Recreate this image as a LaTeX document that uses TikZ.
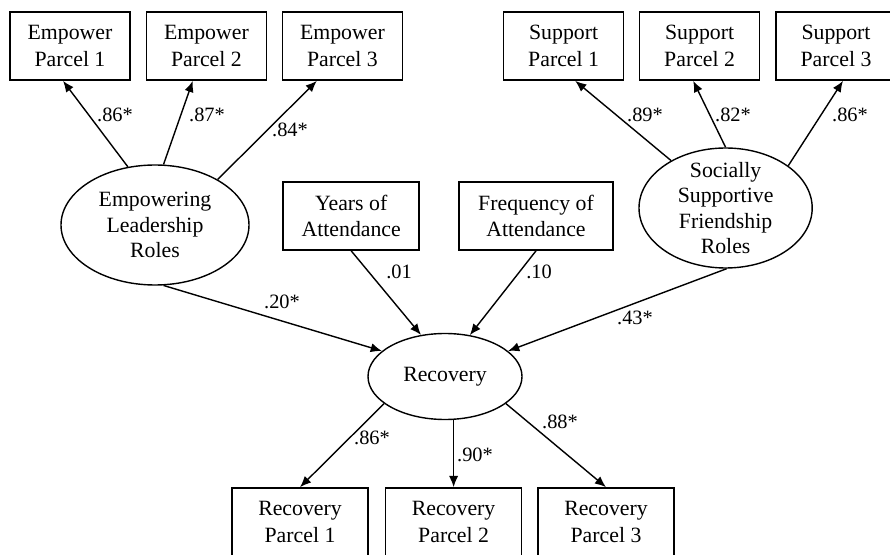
\documentclass[tikz,border=0pt]{standalone}
\usepackage{fontspec}
\setmainfont{Liberation Serif}
\usetikzlibrary{shapes,arrows}
\usetikzlibrary{arrows.meta}
\usetikzlibrary{calc,positioning}

\tikzset{
    obs/.style={draw, line width=1.2pt, rectangle, minimum width=3cm, minimum height=1.7cm, inner sep=0pt, align=center, font=\fontsize{15.5}{19}\selectfont},
    latent/.style={draw, line width=1pt, ellipse, inner sep=0pt, font=\fontsize{15.5}{18}\selectfont},
    lbl/.style={align=center, inner sep=0pt, font=\fontsize{15.5}{18}\selectfont},
    arr/.style={line width=1pt, -{Latex[length=2.8mm,width=2.3mm]}},
    coef/.style={inner sep=0pt, font=\fontsize{14.5}{17}\selectfont},
}

\begin{document}
\begin{tikzpicture}
    \useasboundingbox (0,0) rectangle (22.25,13.85);
    % indicators
    \node[obs] (ep1) at (1.75,12.7) {Empower\\Parcel 1};
    \node[obs] (ep2) at (5.16,12.7) {Empower\\Parcel 2};
    \node[obs] (ep3) at (8.56,12.7) {Empower\\Parcel 3};
    \node[obs] (sp1) at (14.09,12.7) {Support\\Parcel 1};
    \node[obs] (sp2) at (17.49,12.7) {Support\\Parcel 2};
    \node[obs] (sp3) at (20.9,12.7) {Support\\Parcel 3};
    \node[obs, minimum width=3.4cm] (yoa) at (8.78,8.45) {Years of\\Attendance};
    \node[obs, minimum width=3.85cm] (foa) at (13.4,8.45) {Frequency of\\Attendance};
    \node[obs, minimum width=3.4cm] (rp1) at (7.5,0.8) {Recovery\\Parcel 1};
    \node[obs, minimum width=3.4cm] (rp2) at (11.34,0.8) {Recovery\\Parcel 2};
    \node[obs, minimum width=3.4cm] (rp3) at (15.15,0.8) {Recovery\\Parcel 3};

    % latent variables
    \node[latent, minimum width=4.7cm, minimum height=3cm,
        label={[lbl]center:Empowering\\Leadership\\Roles}] (elr) at (3.875,8.225) {};
    \node[latent, minimum width=4.33cm, minimum height=3cm,
        label={[lbl]center:Socially\\Supportive\\Friendship\\Roles}] (ssf) at (18.14,8.65) {};
    \node[latent, minimum width=3.85cm, minimum height=2.15cm] (rec) at (11.125,4.4375) {Recovery};

    % loadings
    \draw[arr] (elr.115) -- ([xshift=-1.75mm]ep1.south);
    \draw[arr] (elr.82) -- ([xshift=-3.4mm]ep2.south);
    \draw[arr] (elr.36) -- ([xshift=-6.4mm]ep3.south);
    \draw[arr] (ssf.139) -- ([xshift=2.9mm]sp1.south);
    \draw[arr] (ssf.90) -- ([xshift=-1.6mm]sp2.south);
    \draw[arr] (ssf.34) -- ([xshift=1.75mm]sp3.south);
    \draw[arr] (rec.204) -- (rp1.north);
    \draw[arr] (rec.south -| rp2.north) -- (rp2.north);
    \draw[arr] (rec.336) -- (rp3.north);

    % paths
    \draw[arr] (yoa.south) -- (rec.120);
    \draw[arr] (foa.south) -- (rec.59);
    \draw[arr] (elr.278) -- (rec.158);
    \draw[arr] (ssf.271) -- (rec.22);

    \node[coef] (cep1) at (2.875,10.975) {.86*};
    \node[coef] (cep2) at (5.175,10.975) {.87*};
    \node[coef] (cep3) at (7.25,10.6) {.84*};
    \node[coef] (csp1) at (16.125,10.975) {.89*};
    \node[coef] (csp2) at (18.325,10.975) {.82*};
    \node[coef] (csp3) at (21.25,10.975) {.86*};
    \node[coef] (cyoa) at (9.975,7.05) {.01};
    \node[coef] (cfoa) at (13.475,7.05) {.10};
    \node[coef] (celr) at (7.05,6.3) {.20*};
    \node[coef] (cssf) at (15.875,5.9) {.43*};
    \node[coef] (crp1) at (9.3,2.9) {.86*};
    \node[coef] (crp2) at (11.875,2.475) {.90*};
    \node[coef] (crp3) at (14.0,3.3) {.88*};
\end{tikzpicture}
\end{document}
